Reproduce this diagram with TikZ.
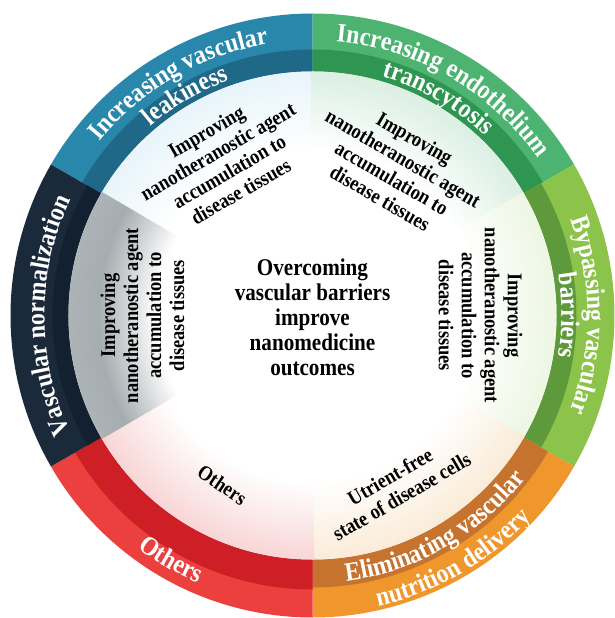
\documentclass[tikz,border=0pt]{standalone}
\usepackage{fontspec}
\setmainfont{Liberation Serif}
\newfontfamily\labelfont[FakeStretch=0.88]{Liberation Serif}
\newfontfamily\ringfont[FakeStretch=0.9]{Liberation Serif}
\usetikzlibrary{decorations.text}

\definecolor{bluering}{HTML}{2A87AC}
\definecolor{bluedark}{HTML}{1F6888}
\definecolor{bluemid}{HTML}{D0EAF5}
\definecolor{blueglow}{HTML}{ADDBEE}
\definecolor{greenring}{HTML}{4CB371}
\definecolor{greendark}{HTML}{2E9650}
\definecolor{greenmid}{HTML}{B6DFC6}
\definecolor{greenglow}{HTML}{93CEAB}
\definecolor{limering}{HTML}{8CC34B}
\definecolor{limedark}{HTML}{5E993B}
\definecolor{limemid}{HTML}{DAEEC6}
\definecolor{limeglow}{HTML}{BFE09E}
\definecolor{orangering}{HTML}{EF972C}
\definecolor{orangedark}{HTML}{C5732E}
\definecolor{orangemid}{HTML}{F5D8B0}
\definecolor{orangeglow}{HTML}{F0BD80}
\definecolor{redring}{HTML}{EB403E}
\definecolor{reddark}{HTML}{CE1F27}
\definecolor{redmid}{HTML}{F2ABAD}
\definecolor{redglow}{HTML}{E8545B}
\definecolor{navyring}{HTML}{1B2A3B}
\definecolor{navydark}{HTML}{132030}
\definecolor{navymid}{HTML}{A6ADB0}
\definecolor{navyglow}{HTML}{E2E8E9}

\colorlet{glowmid}{white}
\colorlet{glowrim}{white}
\pgfdeclareradialshading[glowmid,glowrim]{sectorglow}{\pgfpoint{0bp}{0bp}}{%
  color(0bp)=(white); color(17bp)=(white); color(33bp)=(glowmid); color(50bp)=(glowrim)}
\pgfdeclareradialshading[glowmid,glowrim]{greyglow}{\pgfpoint{0bp}{0bp}}{%
  color(0bp)=(white); color(16bp)=(white); color(22bp)=(glowmid); color(50bp)=(glowrim)}

\newcommand\ringstyle{\ringfont\bfseries\fontsize{26.5}{26.5}\selectfont\color{white}}

\tikzset{
  sectortext/.style={font=\labelfont\bfseries\fontsize{21}{23}\selectfont, align=center, inner sep=0pt},
  ringlabel/.style={decorate, decoration={text along path, text align=center, text={|\ringstyle|#1}}}
}

\begin{document}
\begin{tikzpicture}[x=1pt, y=1pt]
	\useasboundingbox (-312.5,-302.5) rectangle (301.5,315.5);

	% ring bands
	\fill[bluering] (0,0) -- (90:302) arc[start angle=90, end angle=150, radius=302] -- cycle;
	\fill[bluedark] (0,0) -- (90:266) arc[start angle=90, end angle=150, radius=266] -- cycle;
	\fill[greenring] (0,0) -- (30:302) arc[start angle=30, end angle=90, radius=302] -- cycle;
	\fill[greendark] (0,0) -- (30:266) arc[start angle=30, end angle=90, radius=266] -- cycle;
	\fill[limering] (0,0) -- (-30:302) arc[start angle=-30, end angle=30, radius=302] -- cycle;
	\fill[limedark] (0,0) -- (-30:264) arc[start angle=-30, end angle=30, radius=264] -- cycle;
	\fill[orangering] (0,0) -- (270:302) arc[start angle=270, end angle=330, radius=302] -- cycle;
	\fill[orangedark] (0,0) -- (270:272) arc[start angle=270, end angle=330, radius=272] -- cycle;
	\fill[redring] (0,0) -- (210:302) arc[start angle=210, end angle=270, radius=302] -- cycle;
	\fill[reddark] (0,0) -- (210:274) arc[start angle=210, end angle=270, radius=274] -- cycle;
	\fill[navyring] (0,0) -- (150:302) arc[start angle=150, end angle=210, radius=302] -- cycle;
	\fill[navydark] (0,0) -- (150:260) arc[start angle=150, end angle=210, radius=260] -- cycle;
	\fill[white] (0,0) circle (244);

	% inner glow of each sector
	\begin{scope}
		\clip (0,0) -- (89.6:244) arc[start angle=89.6, end angle=150.4, radius=244] -- cycle;
		\colorlet{glowmid}{bluemid}\colorlet{glowrim}{blueglow}
		\shade[shading=sectorglow] (0,0) circle (244);
	\end{scope}
	\begin{scope}
		\clip (0,0) -- (29.6:244) arc[start angle=29.6, end angle=90.4, radius=244] -- cycle;
		\colorlet{glowmid}{greenmid}\colorlet{glowrim}{greenglow}
		\shade[shading=sectorglow] (0,0) circle (244);
	\end{scope}
	\begin{scope}
		\clip (0,0) -- (-30.4:244) arc[start angle=-30.4, end angle=30.4, radius=244] -- cycle;
		\colorlet{glowmid}{limemid}\colorlet{glowrim}{limeglow}
		\shade[shading=sectorglow] (0,0) circle (244);
	\end{scope}
	\begin{scope}
		\clip (0,0) -- (269.6:244) arc[start angle=269.6, end angle=330.4, radius=244] -- cycle;
		\colorlet{glowmid}{orangemid}\colorlet{glowrim}{orangeglow}
		\shade[shading=sectorglow] (0,0) circle (244);
	\end{scope}
	\begin{scope}
		\clip (0,0) -- (209.6:244) arc[start angle=209.6, end angle=270.4, radius=244] -- cycle;
		\colorlet{glowmid}{redmid}\colorlet{glowrim}{redglow}
		\shade[shading=sectorglow] (0,0) circle (244);
	\end{scope}
	\begin{scope}
		\clip (0,0) -- (149.6:244) arc[start angle=149.6, end angle=210.4, radius=244] -- cycle;
		\colorlet{glowmid}{navymid}\colorlet{glowrim}{navyglow}
		\shade[shading=greyglow] (0,0) circle (244);
	\end{scope}

	% ring titles, top half clockwise, bottom half counter-clockwise
	\path[ringlabel={Increasing vascular}] (150:275) arc[start angle=150, end angle=90, radius=275];
	\path[ringlabel={leakiness}] (150:249) arc[start angle=150, end angle=90, radius=249];
	\path[ringlabel={Increasing endothelium}] (90:275) arc[start angle=90, end angle=30, radius=275];
	\path[ringlabel={transcytosis}] (90:249) arc[start angle=90, end angle=30, radius=249];
	\path[ringlabel={Bypassing vascular}] (30:275) arc[start angle=30, end angle=-30, radius=275];
	\path[ringlabel={barriers}] (30:249) arc[start angle=30, end angle=-30, radius=249];
	\path[ringlabel={Vascular normalization}] (210:268) arc[start angle=210, end angle=150, radius=268];
	\path[ringlabel={Others}] (210:291) arc[start angle=210, end angle=270, radius=291];
	\path[ringlabel={Eliminating vascular}] (270:268) arc[start angle=270, end angle=330, radius=268];
	\path[ringlabel={nutrition delivery}] (270:298) arc[start angle=270, end angle=330, radius=298];

	% sector texts
	\node[sectortext, rotate=30] (leaky) at (120:178) {Improving\\nanotheranostic agent\\accumulation to\\disease tissues};
	\node[sectortext, rotate=-30] (transcyt) at (60:170) {Improving\\nanotheranostic agent\\accumulation to\\disease tissues};
	\node[sectortext, rotate=-90] (bypass) at (0:168) {Improving\\nanotheranostic agent\\accumulation to\\disease tissues};
	\node[sectortext, rotate=90] (normal) at (180:170) {Improving\\nanotheranostic agent\\accumulation to\\disease tissues};
	\node[sectortext, rotate=-34] (other) at (242:192) {Others};
	\node[sectortext, rotate=30] (nutrient) at (296:190) {Utrient-free\\state of disease cells};

	\node[font=\labelfont\bfseries\fontsize{24}{25}\selectfont, align=center] (core) at (0,-2)
		{Overcoming\\vascular barriers\\improve\\nanomedicine\\outcomes};
\end{tikzpicture}
\end{document}
